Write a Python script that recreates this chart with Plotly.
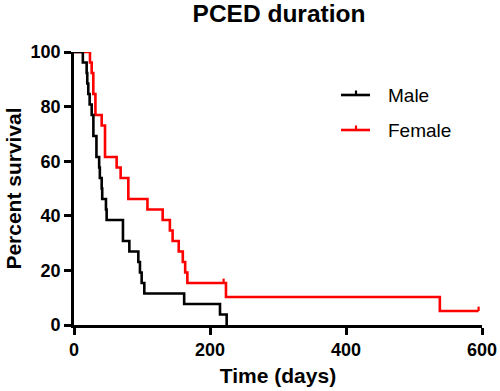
import plotly.graph_objects as go

# Kaplan-Meier step data (time in days, percent survival)
male_time = [0, 13, 18.6, 19.5, 21, 23, 26, 28.5, 33, 37, 38, 40.7, 41.5, 47, 48,
             72, 81.4, 94.6, 97, 99.5, 103.4, 162, 214.7, 224.5]
male_surv = [100, 96.15, 92.31, 88.46, 84.62, 80.77, 76.92, 69.23, 61.54, 57.69, 53.85,
             50.0, 46.15, 42.31, 38.46, 30.77, 26.92, 23.08, 19.23, 15.38, 11.54,
             7.69, 3.85, 0]

female_time = [0, 23.5, 26, 28.4, 31.5, 40.7, 45.6, 62.7, 68.6, 79.9, 108, 130.4,
               141, 145, 154, 160, 163.5, 166.7, 223.5, 538, 595]
female_surv = [100, 96.15, 92.31, 84.62, 76.92, 73.08, 61.54, 57.69, 53.85, 46.15,
               42.31, 38.46, 34.62, 30.77, 26.92, 23.08, 19.23, 15.38, 10.26, 5.13, 5.13]

female_censor_time = [220, 595]
female_censor_surv = [15.38, 5.13]

x_ticks = [0, 200, 400, 600]
y_ticks = [0, 20, 40, 60, 80, 100]

FONT = "Arial, Liberation Sans, sans-serif"
RED = "#ff0000"
BLACK = "#000000"
LW = 2.6

fig = go.Figure()

fig.add_trace(go.Scatter(x=female_time, y=female_surv, mode="lines", line_shape="hv",
                         line=dict(color=RED, width=LW), name="Female",
                         cliponaxis=False, showlegend=False))
fig.add_trace(go.Scatter(x=female_censor_time, y=female_censor_surv, mode="markers",
                         marker=dict(size=0.1, color=RED, opacity=0),
                         error_y=dict(type="data", symmetric=False,
                                      array=[1.6] * len(female_censor_time),
                                      arrayminus=[0] * len(female_censor_time),
                                      width=0, thickness=2.2, color=RED),
                         cliponaxis=False, showlegend=False, hoverinfo="skip"))
fig.add_trace(go.Scatter(x=male_time, y=male_surv, mode="lines", line_shape="hv",
                         line=dict(color=BLACK, width=LW), name="Male",
                         cliponaxis=False, showlegend=False))

# Manual legend (line with small upward censor tick, then label)
legend_items = [("Male", BLACK, 95), ("Female", RED, 130)]
for label, col, ypx in legend_items:
    yp = 1 - (ypx - 52) / 273
    fig.add_shape(type="line", xref="paper", yref="paper",
                  x0=(341 - 74) / 408, x1=(370 - 74) / 408, y0=yp, y1=yp,
                  line=dict(color=col, width=LW))
    fig.add_shape(type="line", xref="paper", yref="paper",
                  x0=(356 - 74) / 408, x1=(356 - 74) / 408, y0=yp, y1=yp + 4.5 / 273,
                  line=dict(color=col, width=2.2))
    fig.add_annotation(text=label, xref="paper", yref="paper",
                       x=(386 - 74) / 408, y=yp, xanchor="left", yanchor="middle",
                       showarrow=False, font=dict(family=FONT, size=19, color=BLACK))

fig.update_layout(
    width=500, height=391,
    margin=dict(l=74, r=18, t=52, b=66),
    paper_bgcolor="white", plot_bgcolor="white",
    title=dict(text="<b>PCED duration</b>", x=(279 - 74) / 408, xref="paper",
               xanchor="center", y=1 - 13 / 391, yref="container", yanchor="middle",
               automargin=False,
               font=dict(family=FONT, size=24.5, color=BLACK)),
    font=dict(family=FONT, color=BLACK),
)
fig.update_xaxes(range=[0, 600], tickvals=x_ticks, ticktext=[f"<b>{v}</b>" for v in x_ticks],
                 showline=True, linecolor=BLACK, linewidth=LW, ticks="outside",
                 ticklen=7, tickwidth=LW, tickcolor=BLACK, showgrid=False, zeroline=False,
                 automargin=False,
                 tickfont=dict(family=FONT, size=18, color=BLACK),
                 title=dict(text="<b>Time (days)</b>", font=dict(family=FONT, size=21, color=BLACK),
                            standoff=9))
fig.update_yaxes(range=[0, 100], tickvals=y_ticks, ticktext=[f"<b>{v}</b>" for v in y_ticks],
                 showline=True, linecolor=BLACK, linewidth=LW, ticks="outside",
                 ticklen=7, tickwidth=LW, tickcolor=BLACK, showgrid=False, zeroline=False,
                 automargin=False,
                 tickfont=dict(family=FONT, size=18, color=BLACK),
                 title=dict(text="<b>Percent survival</b>", font=dict(family=FONT, size=21, color=BLACK),
                            standoff=4))

fig.write_html("out.html", config={"displayModeBar": False},
               post_script="document.body.style.margin='0';document.body.style.padding='0';")
